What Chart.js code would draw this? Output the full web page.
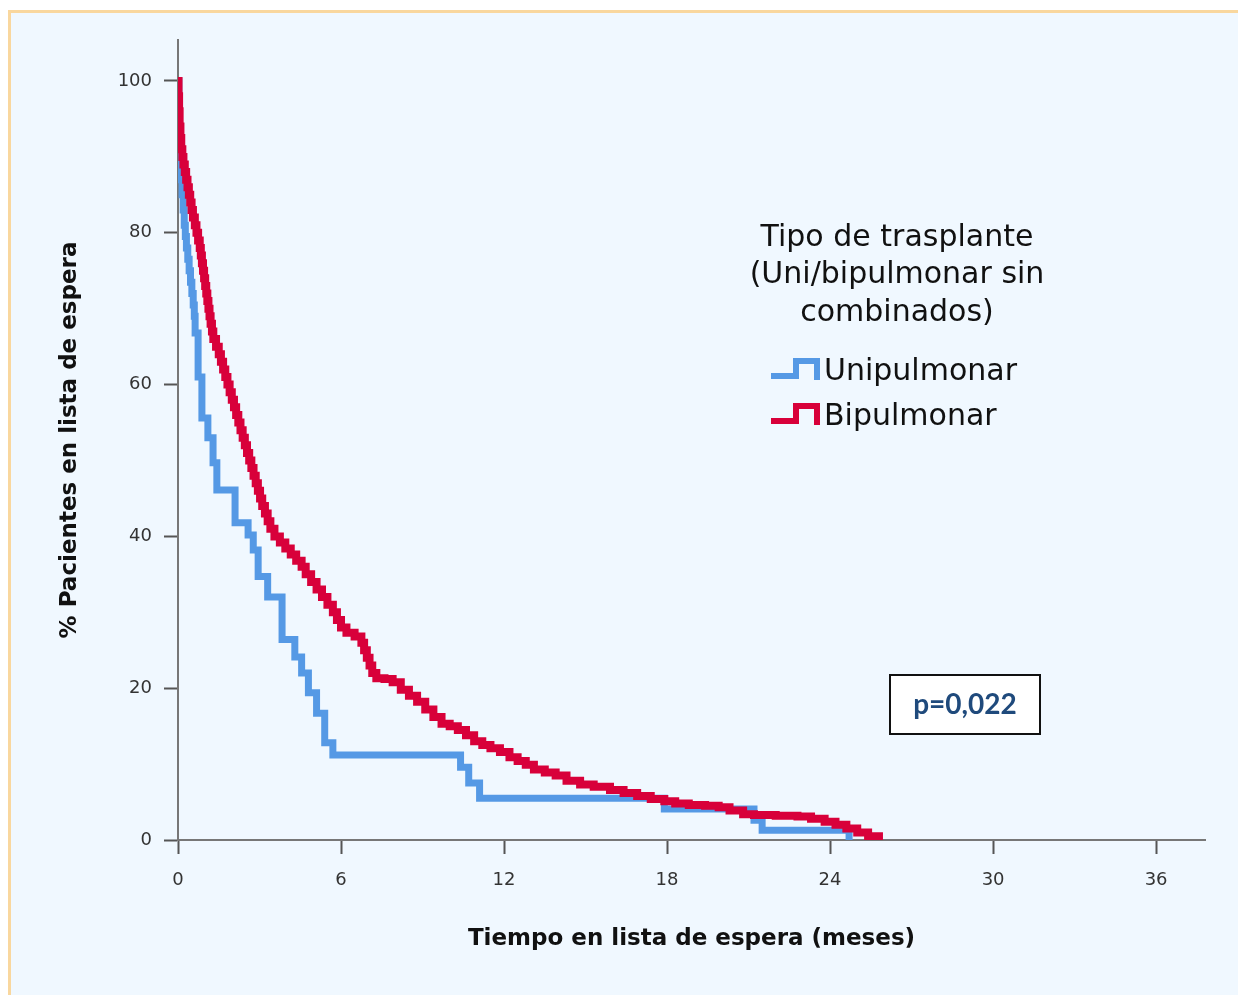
<!DOCTYPE html>
<html>
<head>
<meta charset="utf-8">
<script src="https://cdn.jsdelivr.net/npm/chart.js@4.4.1/dist/chart.umd.min.js"></script>
<style>
  html, body { margin: 0; padding: 0; background: #ffffff; }
  #frame {
    position: absolute; left: 8px; top: 10px; width: 1230px; height: 985px;
    background: #f0f8ff; border-top: 3px solid #f9d79e; border-left: 3px solid #f9d79e;
    box-sizing: border-box;
  }
  #chart { position: absolute; left: 0; top: 0; }
</style>
</head>
<body>
<div id="frame"></div>
<canvas id="chart" width="1238" height="995"></canvas>
<script>
// Kaplan-Meier data (months, % still on waiting list)
const uniTimes  = [0, 0.03, 0.06, 0.09, 0.12, 0.15, 0.19, 0.23, 0.27, 0.31, 0.36, 0.41, 0.46, 0.51, 0.56, 0.6,
                   0.63, 0.74, 0.88, 1.1, 1.29, 1.43,
                   2.1, 2.58, 2.77, 2.95, 3.3, 3.83, 4.3, 4.55, 4.8, 5.1, 5.4, 5.7, 10.4, 10.7, 11.1, 17.9, 21.2, 21.5, 24.7];
const uniValues = [100, 93, 91, 89, 87, 85, 83, 81, 79.5, 78, 76.5, 75, 73.5, 72, 70.5, 69,
                   66.8, 61, 55.6, 53, 49.7, 46.1,
                   41.8, 40.2, 38.2, 34.7, 32, 26.4, 24.1, 22, 19.4, 16.7, 12.8, 11.2, 9.6, 7.5, 5.5, 4.1, 2.6, 1.3, 0];

const biTimes  = [0, 0.02, 0.04, 0.06, 0.09, 0.12, 0.16, 0.2, 0.25, 0.3, 0.35, 0.4, 0.45, 0.5, 0.55, 0.62, 0.68,
                  0.74, 0.8, 0.84, 0.88, 0.92, 0.96, 1.0, 1.04, 1.08, 1.12, 1.16, 1.2, 1.25, 1.3, 1.4, 1.5,
                  1.58, 1.66, 1.74, 1.82, 1.9, 1.98, 2.06, 2.14, 2.22, 2.3, 2.38, 2.46, 2.54, 2.62, 2.7, 2.78,
                  2.86, 2.94, 3.02, 3.1, 3.2, 3.3, 3.4, 3.55, 3.75, 3.95, 4.15, 4.35, 4.55, 4.7, 4.9, 5.1,
                  5.3, 5.5, 5.7, 5.85, 6.0, 6.2, 6.5, 6.75, 6.85, 6.95, 7.05, 7.15, 7.3, 7.6, 7.9, 8.2, 8.5, 8.8,
                  9.1, 9.4, 9.7, 10.0, 10.3, 10.6, 10.9, 11.2, 11.5, 11.85, 12.2, 12.5, 12.8, 13.1, 13.5, 13.9,
                  14.3, 14.8, 15.3, 15.9, 16.4, 16.9, 17.4, 17.9, 18.3, 18.8, 19.4, 19.9, 20.3, 20.8, 21.2,
                  22.0, 22.8, 23.3, 23.8, 24.2, 24.6, 25.0, 25.4, 25.8];
const biValues = [100, 98, 96, 94, 92.5, 91, 90, 89, 88, 87, 86, 85, 84, 83, 82, 81, 80,
                  79, 78, 77, 76, 75, 74, 73, 72, 71, 70, 69, 68, 67, 66, 65, 64,
                  63, 62, 61, 60, 59, 58, 57, 56, 55, 54, 53, 52, 51, 50, 49, 48,
                  47, 46, 45, 44, 43, 42, 41, 40, 39.2, 38.4, 37.6, 36.8, 36, 35, 34, 33,
                  32, 31, 30, 29, 28, 27.3, 26.8, 26, 25, 24, 23, 22, 21.3, 21.2, 20.8, 19.8, 19, 18.2,
                  17.2, 16.2, 15.3, 15, 14.5, 13.8, 13, 12.5, 12.1, 11.6, 10.9, 10.4, 9.9, 9.3, 8.9, 8.5,
                  7.8, 7.3, 7.0, 6.6, 6.2, 5.8, 5.4, 5.1, 4.8, 4.6, 4.5, 4.3, 3.9, 3.4, 3.3,
                  3.2, 3.1, 2.8, 2.4, 2.0, 1.5, 1.0, 0.5, 0];

const xTicks = [0, 6, 12, 18, 24, 30, 36];
const yTicks = [0, 20, 40, 60, 80, 100];

const seriesNames = ['Unipulmonar', 'Bipulmonar'];
const seriesColors = ['#5599e5', '#d8003a'];
const legendTitle = ['Tipo de trasplante', '(Uni/bipulmonar sin', 'combinados)'];
const pValueText = 'p=0,022';

function toPoints(times, values) {
  return times.map((t, i) => ({ x: t, y: values[i] }));
}

// legend + p-value box drawn on the canvas
const annotations = {
  id: 'annotations',
  afterDraw(chart) {
    const ctx = chart.ctx;
    ctx.save();
    ctx.fillStyle = '#111';
    ctx.font = '30px "DejaVu Sans"';
    ctx.textAlign = 'center';
    ctx.textBaseline = 'middle';
    legendTitle.forEach((line, i) => ctx.fillText(line, 897, 238 + i * 37.5));

    // step icons
    ctx.lineWidth = 6;
    ctx.lineJoin = 'miter';
    ctx.lineCap = 'butt';
    [372, 417].forEach((yy, i) => {
      ctx.strokeStyle = seriesColors[i];
      ctx.beginPath();
      ctx.moveTo(771, yy + 4);
      ctx.lineTo(796, yy + 4);
      ctx.lineTo(796, yy - 11);
      ctx.lineTo(817, yy - 11);
      ctx.lineTo(817, yy + 8);
      ctx.stroke();
      ctx.textAlign = 'left';
      ctx.fillStyle = '#111';
      ctx.fillText(seriesNames[i], 824, yy);
    });

    // p-value box
    ctx.fillStyle = '#ffffff';
    ctx.fillRect(890, 675, 150, 59);
    ctx.strokeStyle = '#111';
    ctx.lineWidth = 2;
    ctx.strokeRect(890, 675, 150, 59);
    ctx.fillStyle = '#1f4a7c';
    ctx.font = 'bold 28px Lato';
    ctx.textAlign = 'center';
    ctx.fillText(pValueText, 965, 705);
    ctx.restore();
  }
};

const config = {
  type: 'line',
  data: {
    datasets: [
      {
        label: seriesNames[0],
        data: toPoints(uniTimes, uniValues),
        borderColor: seriesColors[0],
        borderWidth: 7,
        stepped: 'before',
        pointRadius: 0,
        fill: false,
        order: 1
      },
      {
        label: seriesNames[1],
        data: toPoints(biTimes, biValues),
        borderColor: seriesColors[1],
        borderWidth: 8,
        stepped: 'before',
        pointRadius: 0,
        fill: false,
        order: 0
      }
    ]
  },
  options: {
    responsive: false,
    animation: false,
    layout: { padding: { left: 0, top: 40, right: 33, bottom: 0 } },
    plugins: {
      legend: { display: false },
      tooltip: { enabled: false }
    },
    elements: { line: { borderJoinStyle: 'miter', borderCapStyle: 'butt', tension: 0 } },
    scales: {
      x: {
        type: 'linear',
        min: 0,
        max: 37.8,
        afterBuildTicks: (axis) => { axis.ticks = xTicks.map(v => ({ value: v })); },
        afterFit: (scale) => { scale.height = 155; },
        grid: { drawOnChartArea: false, drawTicks: true, tickLength: 14, tickWidth: 2, color: '#555' },
        border: { display: true, color: '#777', width: 2 },
        ticks: { padding: 16, color: '#333', font: { family: 'DejaVu Sans', size: 18 } },
        title: {
          display: true,
          text: 'Tiempo en lista de espera (meses)',
          color: '#111',
          font: { family: 'DejaVu Sans', size: 23, weight: 'bold' },
          padding: { top: 0, bottom: 42 }
        }
      },
      y: {
        type: 'linear',
        min: 0,
        max: 105.4,
        afterBuildTicks: (axis) => { axis.ticks = yTicks.map(v => ({ value: v })); },
        afterFit: (scale) => { scale.width = 178; },
        grid: { drawOnChartArea: false, drawTicks: true, tickLength: 14, tickWidth: 2, color: '#555' },
        border: { display: true, color: '#777', width: 2 },
        ticks: { padding: 12, color: '#333', font: { family: 'DejaVu Sans', size: 18 } },
        title: {
          display: true,
          text: '% Pacientes en lista de espera',
          color: '#111',
          font: { family: 'DejaVu Sans', size: 23, weight: 'bold' },
          padding: { top: 56, bottom: 0 }
        }
      }
    }
  },
  plugins: [annotations]
};

const chart = new Chart(document.getElementById('chart').getContext('2d'), config);
</script>
</body>
</html>
